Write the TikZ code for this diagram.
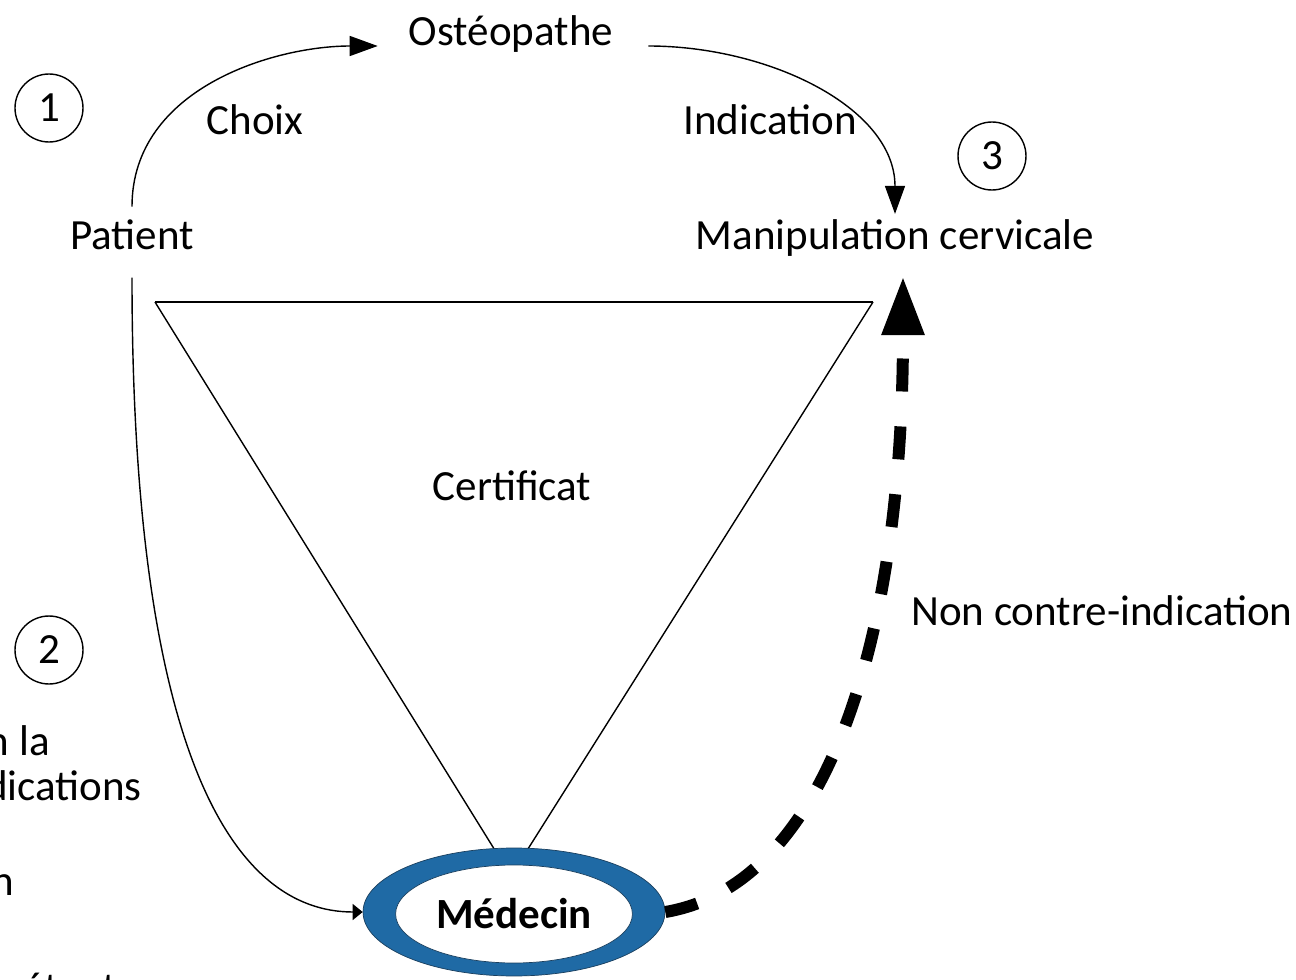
\documentclass[tikz,border=0pt]{standalone}
\usepackage{fontspec}
\setmainfont{Carlito}
\usepackage{tikz}
\usetikzlibrary{shapes.geometric, positioning, arrows.meta}
\usepackage{xcolor}
\definecolor{RingBlue}{HTML}{1F6AA5}
\definecolor{RingEdge}{HTML}{1A3F5E}

\begin{document}
\begin{tikzpicture}[x=0.02cm, y=-0.02cm, every node/.style={font=\fontsize{24.5}{29}\selectfont},
    numcircle/.style={draw, circle, thick, minimum size=1.36cm, inner sep=0pt},
    thinarrow/.style={-{Triangle[length=0.56cm, width=0.4cm]}, thick}]
            \useasboundingbox (0,0) rectangle (1296,980);

            % Numbered circles
            \node[numcircle] (one) at (49,108) {1};
            \node[numcircle] (two) at (49,650) {2};
            \node[numcircle] (three) at (992,156) {3};

            % Actors and act
            \node[anchor=base] (patient) at (132,250) {Patient};
            \node[anchor=base] (osteo) at (511,46) {Ostéopathe};
            \node[anchor=base] (manip) at (895,250) {Manipulation cervicale};

            % Labels
            \node[anchor=base] (choix) at (255,135) {Choix};
            \node[anchor=base] (indic) at (770,135) {Indication};
            \node[anchor=base] (certif) at (512,500) {Certificat};
            \node[anchor=base west] (noncontre) at (905,625) {Non contre-indication};

            % Text cut off at the left edge
            \node[anchor=base east] (cutla) at (56,755) {n la};
            \node[anchor=base east] (cutdic) at (148,800) {dications};
            \node[anchor=base east] (cutn) at (20,895) {n};
            \node[anchor=base east] (cutpet) at (123,1002) {pétent};

            % Certificate triangle
            \coordinate (tleft) at (155,302);
            \coordinate (tright) at (873,302);
            \draw[thick] (tleft) -- (tright);
            \draw[thick] (tleft) -- (501,860);
            \draw[thick] (tright) -- (521,860);

            % Doctor (blue ring)
            \node[draw=RingEdge, fill=RingBlue, ellipse, minimum width=6.04cm, minimum height=2.56cm] (medecin) at (514,912) {};
            \node[draw=RingEdge, fill=white, ellipse, minimum width=4.44cm, minimum height=1.96cm, font=\fontsize{24.5}{29}\selectfont\bfseries] (medtext) at (514,914) {Médecin};

            % Arrows
            \draw[thinarrow, shorten >=0.5cm, shorten <=0.15cm] (patient.north) .. controls +(0,-126) and +(-128,0) .. (osteo.base west);
            \draw[thinarrow, shorten <=0.58cm] (osteo.base east) .. controls +(150,0) and +(0,-106) .. (manip.north);
            \draw[-{Triangle[length=0.2cm, width=0.32cm]}, thick, shorten <=0.42cm] (patient.south) .. controls +(0,489) and +(-133,0) .. (medecin.west);
            \draw[-{Triangle[length=1.18cm, width=0.8cm]}, line width=0.24cm, dash pattern=on 0.66cm off 0.7cm, shorten >=0.26cm]
                (medecin.east) .. controls +(160,-27) and +(0,380) .. ([xshift=0.16cm]manip.south);
        \end{tikzpicture}
\end{document}
